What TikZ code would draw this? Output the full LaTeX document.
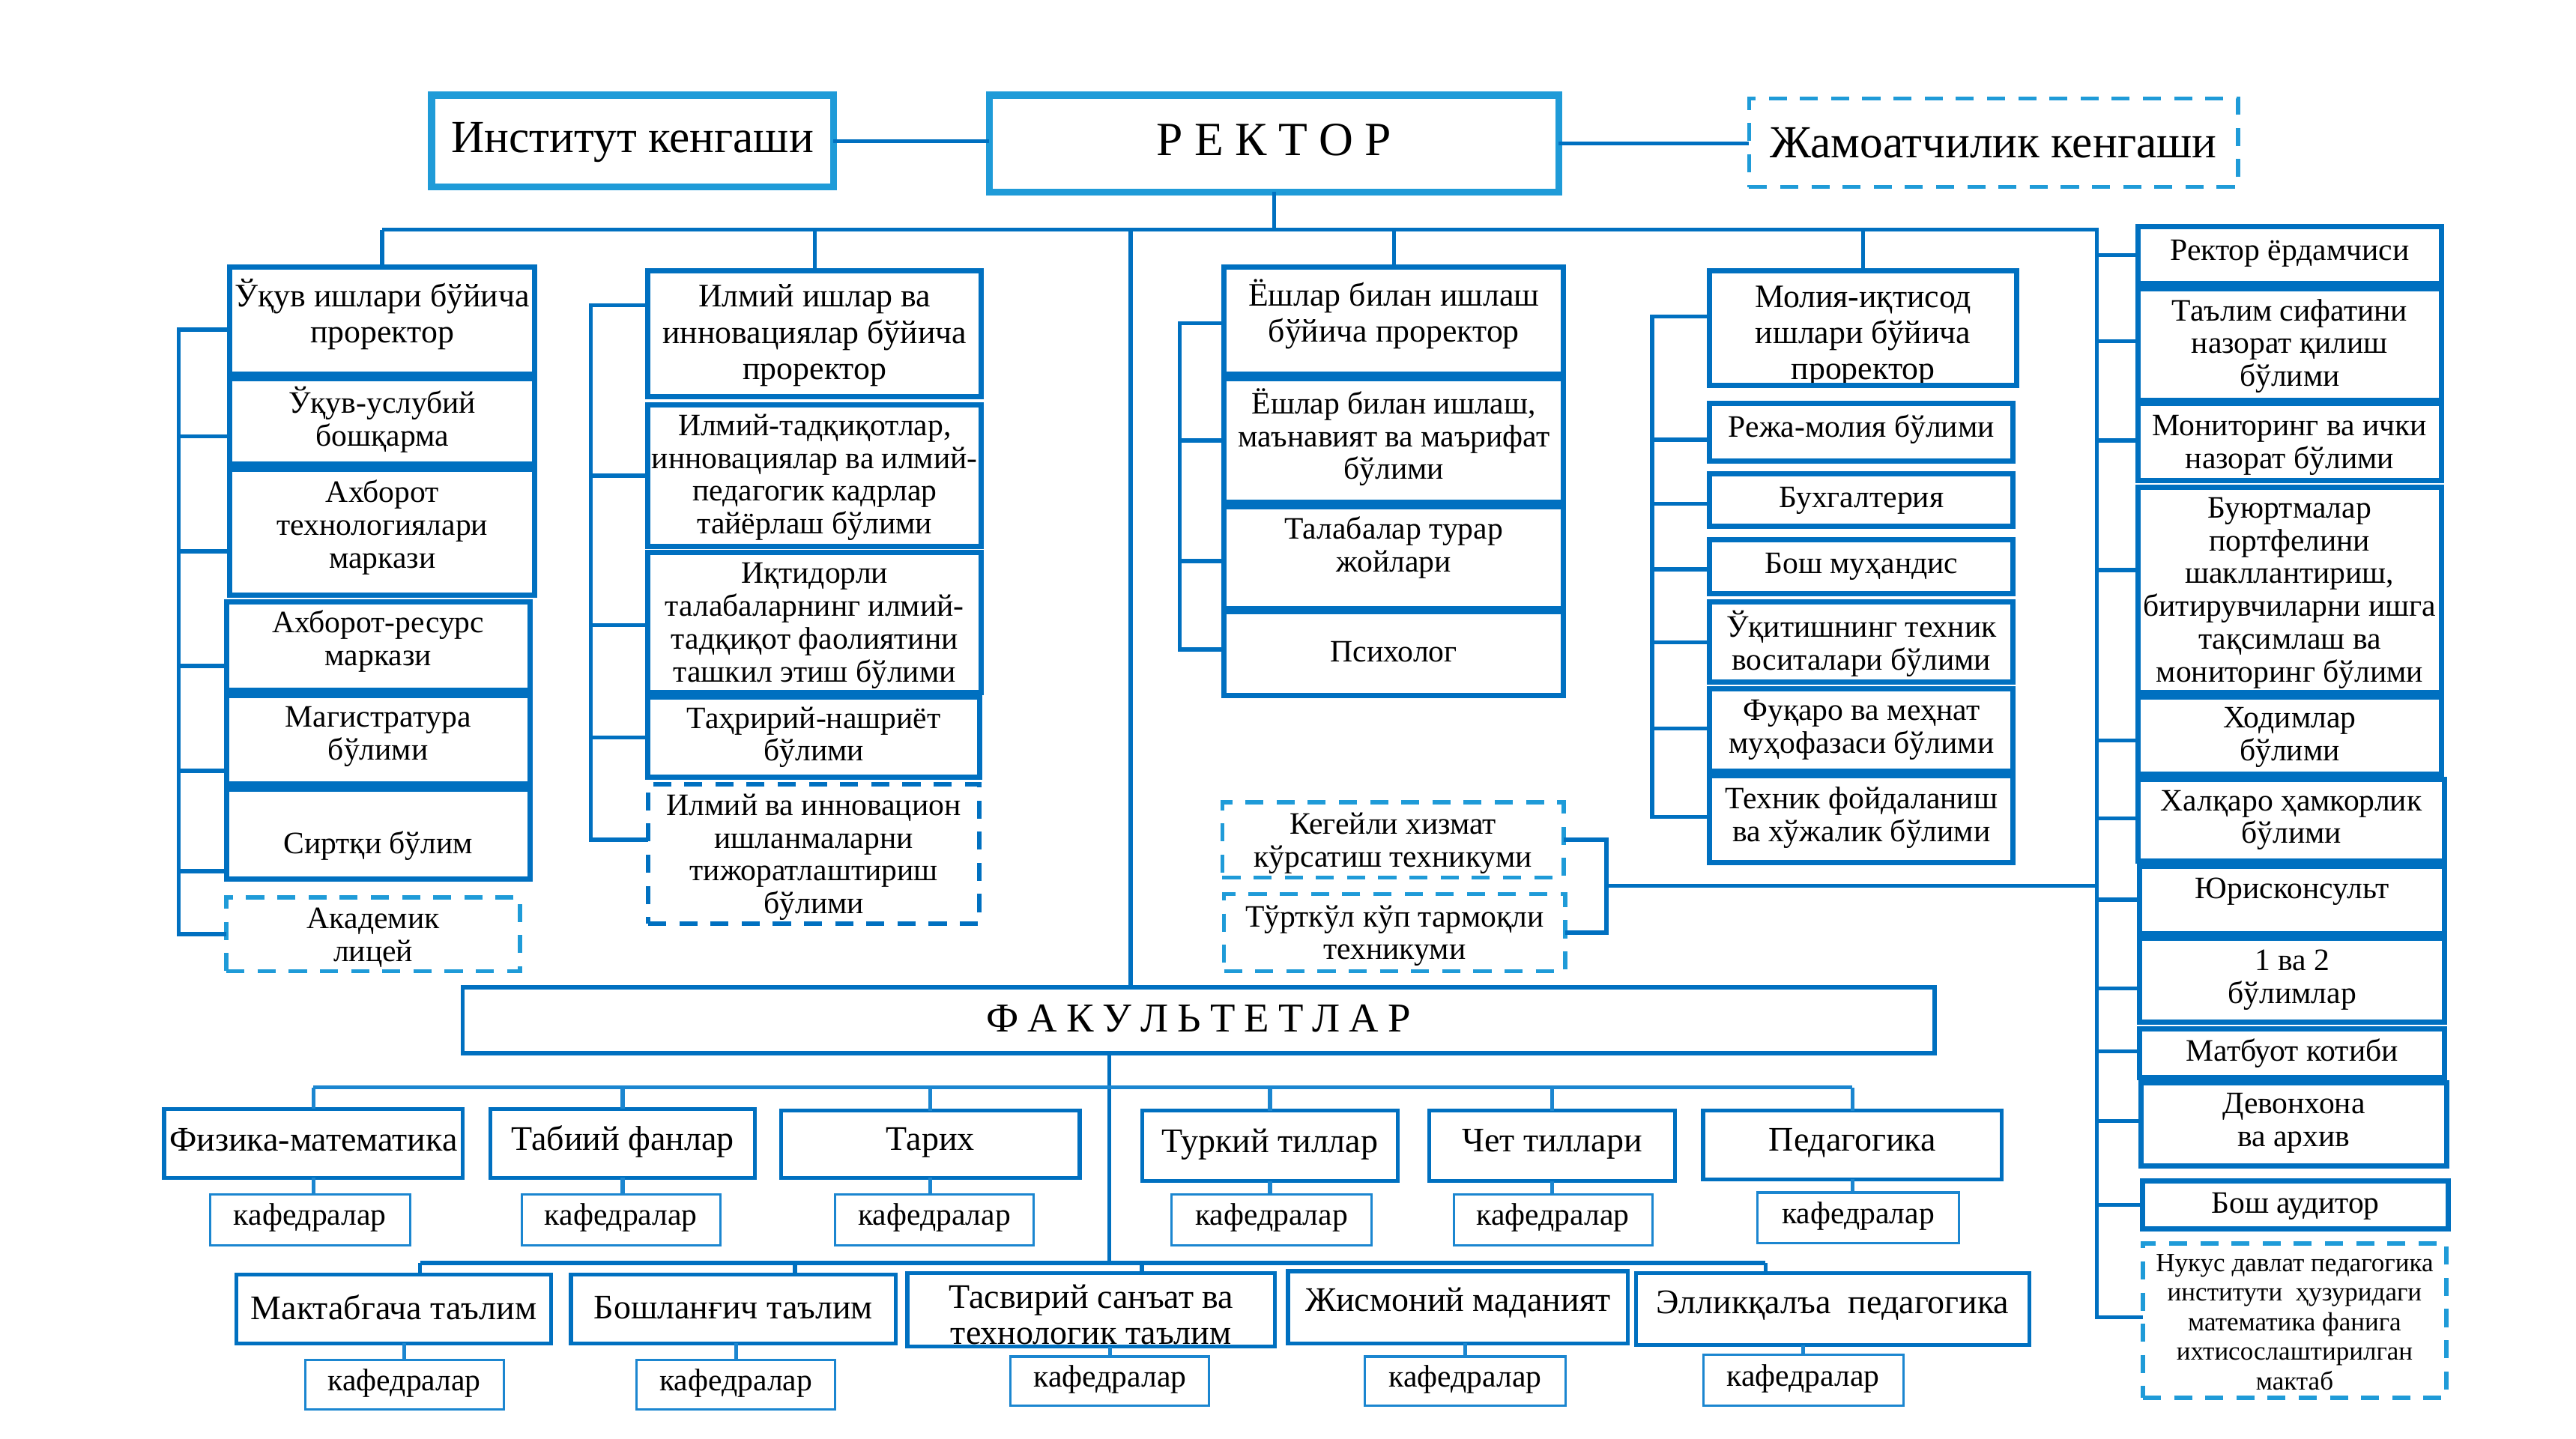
\documentclass[tikz,border=0pt]{standalone}
\usepackage{fontspec}
\setmainfont{Liberation Serif}
\definecolor{cdark}{RGB}{0,112,192}
\definecolor{clight}{RGB}{31,155,216}
\definecolor{cmid}{RGB}{27,134,208}
\newcommand\gp{\hspace{7pt}}
\newcommand\gq{\hspace{5.5pt}}
\tikzset{
 conn/.style={draw=cdark,line width=2.5pt},
 connl/.style={draw=cmid,line width=2.4pt},
 bxs/.style={draw=cdark,line width=3.2pt},
 topbx/.style={draw=clight,line width=4.2pt},
 dbx/.style={draw=clight,line width=2.6pt,dash pattern=on 11pt off 8pt},
 ddbx/.style={draw=cdark,line width=2.6pt,dash pattern=on 11pt off 8pt},
 fakbx/.style={draw=cdark,line width=2.7pt},
 fbx/.style={draw=cdark,line width=2.4pt},
 kbx/.style={draw=cmid,line width=1.4pt},
 txt/.style={inner sep=0pt,outer sep=0pt,align=center,text=black},
 fmain/.style={font=\fontsize{19}{20}\selectfont},
 fpro/.style={font=\fontsize{20}{22}\selectfont},
 ftop/.style={font=\fontsize{28}{30}\selectfont},
 frect/.style={font=\fontsize{29}{30}\selectfont},
 ffak/.style={font=\fontsize{25}{26}\selectfont},
 ffac/.style={font=\fontsize{21}{22}\selectfont},
 fkaf/.style={font=\fontsize{19}{20}\selectfont},
 fnuk/.style={font=\fontsize{16}{18}\selectfont},
}
% box style, font style, name, x1, y1, x2, y2, text dy, text
\newcommand\bx[9]{%
 \node[txt,#2] (#3t) at ({(#4+#6)/2},{(#5+#7)/2+(#8)+2}) {#9};
 \node[#1,inner sep=0pt,outer sep=0pt,minimum width={(#6-#4)*1pt},minimum height={(#7-#5)*1pt}] (#3) at ({(#4+#6)/2},{(#5+#7)/2}) {};
}
\newcommand\brn[3]{\draw[conn] ([yshift={(#2)*(-1pt)}]#1.west) -- ([yshift={(#2)*(-1pt)}]#1.west -| #3);}
\newcommand\colbus[5]{\draw[conn] ([yshift={(#2)*(-1pt)}]#1.west) -| ([yshift={(#4)*(-1pt)}]#3.west -| #5) -- ([yshift={(#4)*(-1pt)}]#3.west);}
\begin{document}
\begin{tikzpicture}[x=1pt,y=-1pt]
\fill[white] (0,0) rectangle (1570,877);
\useasboundingbox (0,0) rectangle (1570,877);
% top
\bx{topbx}{ftop}{inst}{263}{58}{508}{114}{-1}{Институт кенгаши}
\bx{topbx}{frect}{rect}{603}{58}{950}{117}{-4}{Р\gp Е\gp К\gp Т\gp О\gp Р}
\bx{dbx}{ftop}{jam}{1066}{60}{1364}{114}{-2}{Жамоатчилик кенгаши}
% column 1
\bx{bxs}{fpro}{c1a}{140}{163}{326}{228}{-6}{Ўқув ишлари бўйича\\проректор}
\bx{bxs}{fmain}{c1b}{140}{231}{326}{283}{-3}{Ўқув-услубий\\бошқарма}
\bx{bxs}{fmain}{c1c}{140}{286}{326}{363}{-5}{Ахборот\\технологиялари\\маркази}
\bx{bxs}{fmain}{c1d}{138}{367}{323}{421}{-5}{Ахборот-ресурс\\маркази}
\bx{bxs}{fmain}{c1e}{138}{424}{323}{478}{-4}{Магистратура\\бўлими}
\bx{bxs}{fmain}{c1f}{138}{481}{323}{536}{5}{Сиртқи бўлим}
\bx{dbx}{fmain}{c1g}{138}{547}{317}{592}{0}{Академик\\лицей}
% column 2
\bx{bxs}{fpro}{c2a}{395}{165}{598}{242}{-1}{Илмий ишлар ва\\инновациялар бўйича\\проректор}
\bx{bxs}{fmain}{c2b}{395}{247}{598}{333}{-1}{Илмий-тадқиқотлар,\\инновациялар ва илмий-\\педагогик кадрлар\\тайёрлаш бўлими}
\bx{bxs}{fmain}{c2c}{395}{337}{598}{422}{0}{Иқтидорли\\талабаларнинг илмий-\\тадқиқот фаолиятини\\ташкил этиш бўлими}
\bx{bxs}{fmain}{c2d}{395}{425}{597}{474}{-2}{Таҳририй-нашриёт\\бўлими}
\bx{ddbx}{fmain}{c2e}{395}{478}{597}{563}{0}{Илмий ва инновацион\\ишланмаларни\\тижоратлаштириш\\бўлими}
% column 3
\bx{bxs}{fpro}{c3a}{746}{163}{953}{228}{-6}{Ёшлар билан ишлаш\\бўйича проректор}
\bx{bxs}{fmain}{c3b}{746}{231}{953}{306}{-4}{Ёшлар билан ишлаш,\\маънавият ва маърифат\\бўлими}
\bx{bxs}{fmain}{c3c}{746}{309}{953}{371}{-8}{Талабалар турар\\жойлари}
\bx{bxs}{fmain}{c3d}{746}{373}{953}{424}{-3}{Психолог}
% column 4
\bx{bxs}{fpro}{c4a}{1042}{165}{1229}{235}{3}{Молия-иқтисод\\ишлари бўйича\\проректор}
\bx{bxs}{fmain}{c4b}{1042}{246}{1227}{281}{-4}{Режа-молия бўлими}
\bx{bxs}{fmain}{c4c}{1042}{289}{1227}{321}{-2}{Бухгалтерия}
\bx{bxs}{fmain}{c4d}{1042}{329}{1227}{362}{-2}{Бош муҳандис}
\bx{bxs}{fmain}{c4e}{1042}{367}{1227}{416}{-1}{Ўқитишнинг техник\\воситалари бўлими}
\bx{bxs}{fmain}{c4f}{1042}{420}{1227}{470}{-2}{Фуқаро ва меҳнат\\муҳофазаси бўлими}
\bx{bxs}{fmain}{c4g}{1042}{473}{1227}{526}{-3}{Техник фойдаланиш\\ва хўжалик бўлими}
% right column
\bx{bxs}{fmain}{r1}{1303}{138}{1488}{173}{-3}{Ректор ёрдамчиси}
\bx{bxs}{fmain}{r2}{1303}{176}{1488}{244}{-1}{Таълим сифатини\\назорат қилиш\\бўлими}
\bx{bxs}{fmain}{r3}{1303}{246}{1488}{293}{0}{Мониторинг ва ички\\назорат бўлими}
\bx{bxs}{fmain}{r4}{1303}{297}{1488}{422}{0}{Буюртмалар\\портфелини\\шакллантириш,\\битирувчиларни ишга\\тақсимлаш ва\\мониторинг бўлими}
\bx{bxs}{fmain}{r5}{1303}{425}{1488}{472}{-1}{Ходимлар\\бўлими}
\bx{bxs}{fmain}{r6}{1303}{475}{1490}{525}{-2}{Халқаро ҳамкорлик\\бўлими}
\bx{bxs}{fmain}{r7}{1304}{528}{1490}{569}{-7}{Юрисконсульт}
\bx{bxs}{fmain}{r8}{1304}{572}{1490}{623}{-2}{1 ва 2\\бўлимлар}
\bx{bxs}{fmain}{r9}{1304}{627}{1490}{657}{-2}{Матбуот котиби}
\bx{bxs}{fmain}{r10}{1305}{660}{1491}{711}{-3}{Девонхона\\ва архив}
\bx{bxs}{fmain}{r11}{1306}{720}{1492}{749}{-1}{Бош аудитор}
\bx{dbx}{fnuk}{r12}{1306}{758}{1491}{852}{-1}{Нукус давлат педагогика\\институти~ ҳузуридаги\\математика фанига\\ихтисослаштирилган\\мактаб}
% technikums
\bx{dbx}{fmain}{t1}{745}{489}{953}{535}{0}{Кегейли хизмат\\кўрсатиш техникуми}
\bx{dbx}{fmain}{t2}{746}{545}{954}{592}{0}{Тўрткўл кўп тармоқли\\техникуми}
% faculties
\bx{fakbx}{ffak}{fak}{282}{602}{1179}{642}{-3}{Ф\gq А\gq К\gq У\gq Л\gq Ь\gq Т\gq Е\gq Т\gq Л\gq А\gq Р}
\bx{fbx}{ffac}{f1}{100}{676}{282}{718}{-4}{Физика-математика}
\bx{fbx}{ffac}{f2}{299}{676}{460}{718}{-3}{Табиий фанлар}
\bx{fbx}{ffac}{f3}{476}{677}{658}{718}{-3}{Тарих}
\bx{fbx}{ffac}{f4}{696}{677}{852}{720}{-3}{Туркий тиллар}
\bx{fbx}{ffac}{f5}{871}{677}{1021}{720}{-3}{Чет тиллари}
\bx{fbx}{ffac}{f6}{1038}{677}{1220}{719}{-3}{Педагогика}
\bx{kbx}{fkaf}{k1}{128}{728}{250}{759}{-3}{кафедралар}
\bx{kbx}{fkaf}{k2}{318}{728}{439}{759}{-3}{кафедралар}
\bx{kbx}{fkaf}{k3}{509}{728}{630}{759}{-3}{кафедралар}
\bx{kbx}{fkaf}{k4}{714}{728}{836}{759}{-3}{кафедралар}
\bx{kbx}{fkaf}{k5}{886}{728}{1007}{759}{-3}{кафедралар}
\bx{kbx}{fkaf}{k6}{1071}{727}{1194}{758}{-3}{кафедралар}
\bx{fbx}{ffac}{g1}{144}{777}{336}{819}{-3}{Мактабгача таълим}
\bx{fbx}{ffac}{g2}{348}{777}{546}{819}{-3}{Бошланғич таълим}
\bx{fbx}{ffac}{g3}{553}{776}{777}{821}{1}{Тасвирий санъат ва\\технологик таълим}
\bx{fbx}{ffac}{g4}{785}{775}{992}{819}{-5}{Жисмоний маданият}
\bx{fbx}{ffac}{g5}{997}{776}{1237}{820}{-4}{Элликқалъа~ педагогика}
\bx{kbx}{fkaf}{h1}{186}{829}{307}{859}{-3}{кафедралар}
\bx{kbx}{fkaf}{h2}{388}{829}{509}{859}{-3}{кафедралар}
\bx{kbx}{fkaf}{h3}{616}{827}{737}{857}{-3}{кафедралар}
\bx{kbx}{fkaf}{h4}{832}{827}{954}{857}{-3}{кафедралар}
\bx{kbx}{fkaf}{h5}{1038}{826}{1160}{857}{-3}{кафедралар}
% coordinates
\coordinate (bus) at (0,140);
\coordinate (rb) at (1278,0);
\coordinate (lv) at (689,0);
\coordinate (b1) at (109,0);
\coordinate (b2) at (360,0);
\coordinate (b3) at (719,0);
\coordinate (b4) at (1007,0);
\coordinate (brk) at (979,540);
\coordinate (fx) at (676,0);
\coordinate (row1) at (0,663);
\coordinate (row2) at (0,770);
% top connectors
\draw[conn] (inst.east) -- (inst.east -| rect.west);
\draw[conn] (rect.east) -- (rect.east -| jam.west);
\draw[conn] (rect.south) -- (rect.south |- bus);
\draw[conn] (c1a.north |- bus) -- (bus -| rb) -- ([yshift=2pt]r12.west -| rb) -- ([yshift=2pt]r12.west);
\foreach \n in {c1a,c2a,c3a,c4a} \draw[conn] (\n.north) -- (\n.north |- bus);
\draw[conn] (bus -| lv) -- (fak.north -| lv);
% column buses
\colbus{c1a}{5.5}{c1g}{0}{b1}
\brn{c1b}{9}{b1}\brn{c1c}{11.5}{b1}\brn{c1d}{12}{b1}\brn{c1e}{19}{b1}\brn{c1f}{22.5}{b1}
\colbus{c2a}{-17.5}{c2e}{-8.5}{b2}
\brn{c2b}{0}{b2}\brn{c2c}{1.5}{b2}\brn{c2d}{0}{b2}
\colbus{c3a}{1.5}{c3d}{-2.5}{b3}
\brn{c3b}{0}{b3}\brn{c3c}{2}{b3}
\colbus{c4a}{-7}{c4g}{-1.5}{b4}
\brn{c4b}{4.5}{b4}\brn{c4c}{2}{b4}\brn{c4d}{1.5}{b4}\brn{c4e}{0}{b4}\brn{c4f}{-1}{b4}
% right branches
\brn{r1}{0}{rb}\brn{r2}{-2}{rb}\brn{r3}{-1}{rb}\brn{r4}{-12}{rb}\brn{r5}{3}{rb}\brn{r6}{-1}{rb}
\brn{r7}{0}{rb}\brn{r8}{5}{rb}\brn{r9}{-1}{rb}\brn{r10}{-2}{rb}\brn{r11}{0}{rb}
% technikum bracket
\draw[conn] (t1.east) -| (brk) |- (t2.east);
\draw[conn] (brk) -- (brk -| rb);
% faculties
\draw[conn] (fak.south -| fx) -- (row2 -| fx);
\draw[connl] (f1.north |- row1) -- (f6.north |- row1);
\foreach \n in {f1,f2,f3,f4,f5,f6} \draw[connl] (\n.north) -- (\n.north |- row1);
\foreach \a/\b in {f1/k1,f2/k2,f3/k3,f4/k4,f5/k5,f6/k6} \draw[connl] (\a.south) -- (\a.south |- \b.north);
\coordinate (g1t) at ([xshift=16pt]g1.north);
\coordinate (g2t) at ([xshift=37.5pt]g2.north);
\coordinate (g3t) at ([xshift=31pt]g3.north);
\coordinate (g5t) at ([xshift=-41pt]g5.north);
\draw[conn] (g1t |- row2) -- (g5t |- row2);
\foreach \n in {g1t,g2t,g3t,g5t} \draw[conn] (\n) -- (\n |- row2);
\foreach \a/\b in {g1/h1,g2/h2,g3/h3,g4/h4,g5/h5} \draw[connl] (\b.north) -- (\b.north |- \a.south);
\end{tikzpicture}
\end{document}
